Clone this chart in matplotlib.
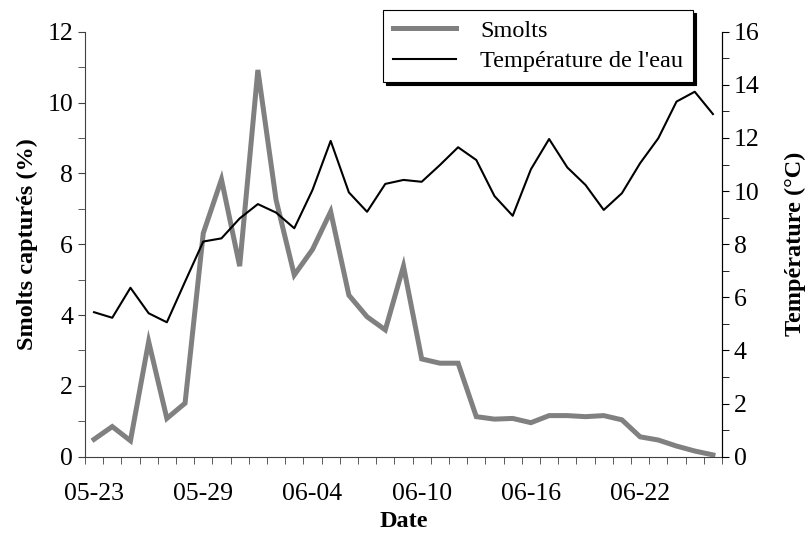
import matplotlib
matplotlib.use("Agg")
import matplotlib.pyplot as plt
from matplotlib.ticker import MultipleLocator, FixedLocator

plt.rcParams['font.family'] = ['Liberation Serif', 'DejaVu Serif']

# daily values, 05-23 .. 06-26
dates = ['05-23', '05-24', '05-25', '05-26', '05-27', '05-28', '05-29', '05-30',
         '05-31', '06-01', '06-02', '06-03', '06-04', '06-05', '06-06', '06-07',
         '06-08', '06-09', '06-10', '06-11', '06-12', '06-13', '06-14', '06-15',
         '06-16', '06-17', '06-18', '06-19', '06-20', '06-21', '06-22', '06-23',
         '06-24', '06-25', '06-26']
smolts = [0.49, 0.85, 0.45, 3.25, 1.08, 1.51, 6.31, 7.83, 5.38, 10.92, 7.25, 5.13,
          5.85, 6.92, 4.56, 3.95, 3.58, 5.38, 2.76, 2.64, 2.64, 1.13, 1.06, 1.08,
          0.96, 1.16, 1.16, 1.13, 1.16, 1.04, 0.56, 0.47, 0.30, 0.16, 0.05]
temperature = [5.44, 5.23, 6.36, 5.40, 5.06, 6.59, 8.10, 8.22, 8.97, 9.51, 9.19, 8.60,
               10.04, 11.89, 9.95, 9.22, 10.27, 10.42, 10.35, 10.98, 11.65, 11.17, 9.81,
               9.07, 10.82, 11.96, 10.89, 10.23, 9.29, 9.92, 11.05, 11.99, 13.37, 13.74,
               12.90]
label_every = 6

fig = plt.figure(figsize=(8.09, 5.34), dpi=100)
ax = fig.add_axes([0.105, 0.1448, 0.7875, 0.7958])
ax2 = ax.twinx()

x = list(range(len(dates)))
l1, = ax.plot(x, smolts, color='#808080', lw=3.6, solid_joinstyle='miter', zorder=3)
l2, = ax2.plot(x, temperature, color='black', lw=1.5, zorder=3)

# x axis: category style, ticks between days
ax.set_xlim(-0.5, len(dates) - 0.5)
ax.xaxis.set_major_locator(FixedLocator(x[::label_every]))
ax.set_xticklabels(dates[::label_every])
ax.xaxis.set_minor_locator(FixedLocator([i - 0.5 for i in range(len(dates) + 1)]))
ax.tick_params(axis='x', which='major', length=0, pad=19, labelsize=18.5)
ax.tick_params(axis='x', which='minor', length=5, direction='out', color='#404040')
ax.set_xlabel('Date', fontsize=17.5, fontweight='bold', labelpad=4)

ax.set_ylim(0, 12)
ax.yaxis.set_major_locator(MultipleLocator(2))
ax.yaxis.set_minor_locator(MultipleLocator(1))
ax.tick_params(axis='y', which='both', direction='out', length=5, labelsize=18.5, color='#404040')
ax.set_ylabel('Smolts capturés (%)', fontsize=17.5, fontweight='bold', labelpad=7)

ax2.set_ylim(0, 16)
ax2.yaxis.set_major_locator(MultipleLocator(2))
ax2.yaxis.set_minor_locator(MultipleLocator(1))
ax2.tick_params(axis='y', which='both', direction='out', length=5, labelsize=18.5)
ax2.set_ylabel('Température (°C)', fontsize=17.5, fontweight='bold', labelpad=18)

for a in (ax, ax2):
    a.spines['top'].set_visible(False)
ax.spines['left'].set_color('#404040')
ax.spines['bottom'].set_color('#404040')
ax2.spines['left'].set_visible(False)
ax2.spines['bottom'].set_visible(False)

leg = ax2.legend([l1, l2], ['Smolts', "Température de l'eau"],
                 loc='upper right', bbox_to_anchor=(693 / 809, 1 - 10 / 534),
                 bbox_transform=fig.transFigure, fontsize=17.5, frameon=True,
                 fancybox=False, shadow={'color': 'black', 'alpha': 1},
                 handlelength=2.6, handletextpad=1.0, borderpad=0.4,
                 labelspacing=0.35, borderaxespad=0)
leg.get_frame().set_edgecolor('black')
leg.get_frame().set_linewidth(0.8)

fig.savefig('out.png', dpi=100)
